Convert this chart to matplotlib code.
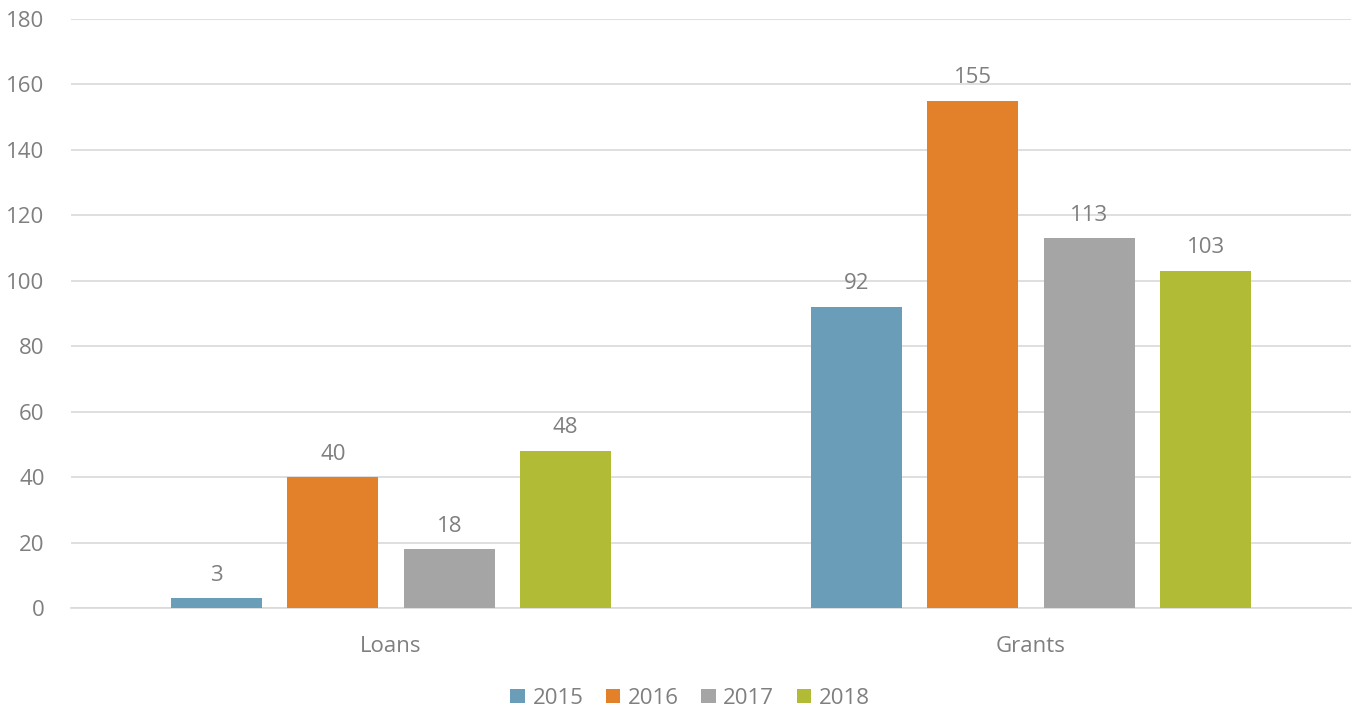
import matplotlib.pyplot as plt
import numpy as np

categories = ['Loans', 'Grants']
years = ['2015', '2016', '2017', '2018']
values = {
    '2015': [3, 92],
    '2016': [40, 155],
    '2017': [18, 113],
    '2018': [48, 103],
}
colors = ['#6A9DB8', '#E3812B', '#A5A5A5', '#B1BB35']

plt.rcParams['font.family'] = ['Open Sans', 'DejaVu Sans']
txt = '#7F7F7F'
fs = 16

fig = plt.figure(figsize=(13.56, 7.08), dpi=100)
ax = fig.add_axes([0.0524, 0.1412, 0.9439, 0.832])

x = np.arange(len(categories))
offsets = [-0.273, -0.091, 0.091, 0.273]
width = 0.142
for yr, off, col in zip(years, offsets, colors):
    bars = ax.bar(x + off, values[yr], width, color=col, label=yr, zorder=3)
    ax.bar_label(bars, padding=9, color=txt, fontsize=fs)

ax.set_xlim(-0.5, 1.5)
ax.set_ylim(0, 180)
ax.set_yticks(range(0, 181, 20))
ax.set_xticks(x, categories)
ax.grid(axis='y', color='#D9D9D9', linewidth=1.2, zorder=0)
for s in ['top', 'right', 'left']:
    ax.spines[s].set_visible(False)
ax.spines['bottom'].set_color('#D9D9D9')
ax.spines['bottom'].set_linewidth(1.2)
ax.tick_params(axis='both', length=0, colors=txt, labelsize=fs)
ax.tick_params(axis='y', pad=19)
ax.tick_params(axis='x', pad=20)

ax.legend(loc='lower center', bbox_to_anchor=(0.4836, -0.205), ncol=4, frameon=False,
          fontsize=fs, labelcolor=txt, handlelength=0.65, handleheight=0.65,
          handletextpad=0.35, columnspacing=1.0)

plt.savefig('out.png')
plt.close()
